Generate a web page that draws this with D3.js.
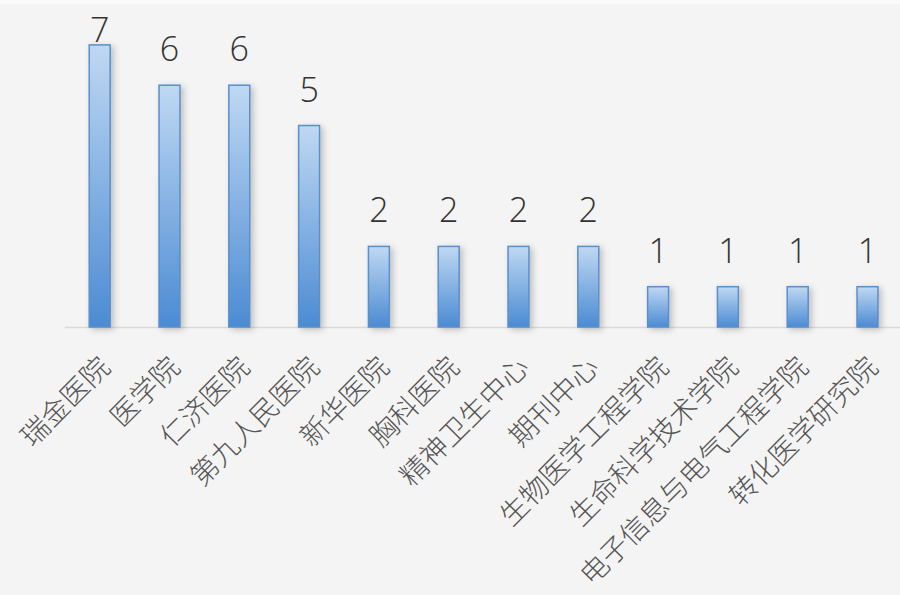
<!DOCTYPE html>
<html>
<head>
<meta charset="utf-8">
<script src="https://cdn.jsdelivr.net/npm/d3@7"></script>
<style>
  html, body { margin: 0; padding: 0; background: #f4f4f4; }
  svg { display: block; }
</style>
</head>
<body>
<script>
const categories = ["瑞金医院", "医学院", "仁济医院", "第九人民医院", "新华医院", "胸科医院",
  "精神卫生中心", "期刊中心", "生物医学工程学院", "生命科学技术学院", "电子信息与电气工程学院", "转化医学研究院"];
const values = [7, 6, 6, 5, 2, 2, 2, 2, 1, 1, 1, 1];

const W = 900, H = 595;
const svg = d3.select("body").append("svg").attr("width", W).attr("height", H);

svg.append("rect").attr("width", W).attr("height", H).attr("fill", "#f4f4f4");
svg.append("rect").attr("width", W).attr("height", 4).attr("fill", "#fafafa");

const defs = svg.append("defs");
const grad = defs.append("linearGradient").attr("id", "barGrad")
  .attr("x1", 0).attr("y1", 0).attr("x2", 0).attr("y2", 1);
grad.append("stop").attr("offset", "0%").attr("stop-color", "#bfd8f2");
grad.append("stop").attr("offset", "100%").attr("stop-color", "#4b8bd3");

const shadow = defs.append("filter").attr("id", "shadow")
  .attr("x", "-50%").attr("y", "-10%").attr("width", "200%").attr("height", "130%");
shadow.append("feDropShadow").attr("dx", 3).attr("dy", 2).attr("stdDeviation", 3)
  .attr("flood-color", "#000").attr("flood-opacity", 0.22);

const baseline = 327;
const x = d3.scaleBand().domain(categories).range([64.8, 902.4])
  .paddingInner(0.7).paddingOuter(0.35);
const y = d3.scaleLinear().domain([0, 7]).range([baseline, 44.9]);

// axis line
svg.append("line")
  .attr("x1", x.range()[0]).attr("x2", W)
  .attr("y1", baseline + 0.5).attr("y2", baseline + 0.5)
  .attr("stroke", "#d9d9d9").attr("stroke-width", 1.5);

// bars
svg.append("g").selectAll("rect").data(values).join("rect")
  .attr("x", (d, i) => x(categories[i]))
  .attr("y", d => y(d))
  .attr("width", x.bandwidth())
  .attr("height", d => baseline - y(d))
  .attr("fill", "url(#barGrad)")
  .attr("stroke", "#5a8fca")
  .attr("stroke-width", 1.5)
  .attr("filter", "url(#shadow)");

// value labels
svg.append("g").selectAll("text").data(values).join("text")
  .attr("x", (d, i) => x(categories[i]) + x.bandwidth() / 2)
  .attr("y", d => Math.max(y(d) - 24, 42))
  .attr("text-anchor", "middle")
  .attr("font-family", "'Open Sans', 'Noto Sans', sans-serif")
  .attr("font-size", 34)
  .attr("font-weight", 300)
  .attr("fill", "#333333")
  .text(d => d);

// category labels
svg.append("g").selectAll("text").data(categories).join("text")
  .attr("transform", d => `translate(${x(d) + x.bandwidth() / 2 + 12},${369}) rotate(-45)`)
  .attr("text-anchor", "end")
  .attr("font-family", "'Noto Sans CJK SC', sans-serif")
  .attr("font-size", 28)
  .attr("font-weight", 300)
  .attr("fill", "#555555")
  .text(d => d);
</script>
</body>
</html>
